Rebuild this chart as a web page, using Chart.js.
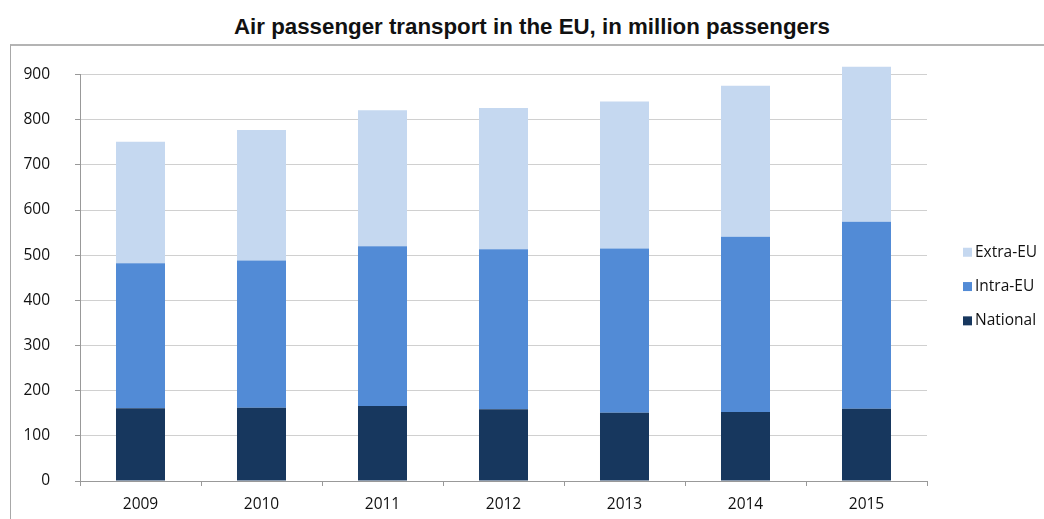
<!DOCTYPE html>
<html>
<head>
<meta charset="utf-8">
<script src="https://cdn.jsdelivr.net/npm/chart.js@4"></script>
<style>
  body { margin: 0; background: #fff; }
  #wrap { position: relative; width: 1044px; height: 519px; overflow: hidden; }
  #frame { position: absolute; left: 10px; top: 44px; width: 1100px; height: 600px;
           border-left: 1px solid #a8a8a8; border-top: 2px solid #b4b4b4; }
  #title { position: absolute; left: 0; top: 14px; width: 1064px; text-align: center;
           font: bold 22.3px "Liberation Sans", Arial, sans-serif; line-height: 26px; color: #111; }
  canvas { position: absolute; left: 0; top: 0; }
</style>
</head>
<body>
<div id="wrap">
  <div id="frame"></div>
  <div id="title">Air passenger transport in the EU, in million passengers</div>
  <canvas id="airChart" width="1044" height="519"></canvas>
</div>
<script>
// Data (million passengers)
const years = ['2009', '2010', '2011', '2012', '2013', '2014', '2015'];
const national = [161, 162, 166, 159, 151, 153, 160];
const intraEU = [321, 326, 354, 354, 364, 388, 414];
const extraEU = [269, 289, 301, 313, 325, 334, 343];
const yTicks = [0, 100, 200, 300, 400, 500, 600, 700, 800, 900];

const labelFont = { family: '"Open Sans", sans-serif', size: 15.5 };

// Legend drawn at the right, newest series on top like the original
const sideLegend = {
    id: 'sideLegend',
    afterDraw(chart) {
        const ctx = chart.ctx;
        const area = chart.chartArea;
        const sets = chart.data.datasets.slice().reverse();
        const x = area.right + 36;
        const startY = (area.top + area.bottom) / 2 - 25.5;
        ctx.save();
        ctx.font = '15.5px "Open Sans", sans-serif';
        ctx.textBaseline = 'middle';
        sets.forEach((ds, i) => {
            const y = startY + i * 34.3;
            ctx.fillStyle = ds.backgroundColor;
            ctx.fillRect(x, y - 4.5, 9, 9);
            ctx.fillStyle = '#111';
            ctx.fillText(ds.label, x + 12, y);
        });
        ctx.restore();
    }
};

const ctx = document.getElementById('airChart').getContext('2d');
new Chart(ctx, {
    type: 'bar',
    data: {
        labels: years,
        datasets: [
            { label: 'National', data: national, backgroundColor: '#17375e' },
            { label: 'Intra-EU', data: intraEU, backgroundColor: '#528bd6' },
            { label: 'Extra-EU', data: extraEU, backgroundColor: '#c5d8f0' }
        ]
    },
    options: {
        responsive: false,
        animation: false,
        layout: { padding: { top: 74.5, right: 117, bottom: 0, left: 0 } },
        // the 2015 bar goes a bit past the 900 line, so don't clip it
        datasets: { bar: { categoryPercentage: 1, barPercentage: 0.405, clip: false } },
        plugins: {
            legend: { display: false },
            title: { display: false },
            tooltip: { enabled: false }
        },
        scales: {
            x: {
                stacked: true,
                grid: { drawOnChartArea: false, drawTicks: true, tickLength: 5, color: '#999', offset: true },
                border: { display: true, color: '#999' },
                ticks: { font: labelFont, color: '#111', padding: 9 },
                afterFit: scale => { scale.height = 38; }
            },
            y: {
                stacked: true,
                min: 0,
                max: 900,
                afterBuildTicks: scale => { scale.ticks = yTicks.map(v => ({ value: v })); },
                grid: { color: '#d0d0d0', tickColor: '#999', tickLength: 5 },
                border: { display: true, color: '#999' },
                ticks: { font: labelFont, color: '#111', padding: 25 },
                afterFit: scale => { scale.width = 80; }
            }
        }
    },
    plugins: [sideLegend]
});
</script>
</body>
</html>
